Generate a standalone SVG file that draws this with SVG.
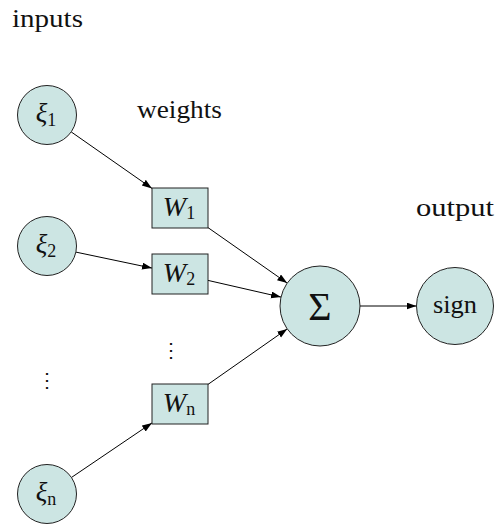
<svg xmlns="http://www.w3.org/2000/svg" width="497" height="524" viewBox="0 0 497 524">
<defs>
<style>
.node{fill:#cce5e3;stroke:#222;stroke-width:1}
.lbl{font-family:"Liberation Serif","DejaVu Serif",serif;fill:#111}
.math{font-family:"Liberation Serif","DejaVu Serif",serif;font-style:italic;fill:#111}
.sub{font-style:normal;font-size:18px}
.conn{stroke:#000;stroke-width:1;fill:none;marker-end:url(#arr)}
.dots{font-family:"DejaVu Serif",serif;font-size:20px;fill:#111}
</style>
<marker id="arr" markerUnits="userSpaceOnUse" markerWidth="10" markerHeight="8" refX="10" refY="3.5" orient="auto">
<path d="M0,0 L10,3.5 L0,7 z" fill="#000"/>
</marker>
</defs>
<rect width="497" height="524" fill="#fff"/>

<g id="titles" class="lbl" font-size="26">
<text x="12" y="27" textLength="71" lengthAdjust="spacingAndGlyphs">inputs</text>
<text x="137" y="118" textLength="85" lengthAdjust="spacingAndGlyphs">weights</text>
<text x="416" y="216" textLength="78" lengthAdjust="spacingAndGlyphs">output</text>
</g>

<g id="connectors">
<path class="conn" d="M71.2,131.9 L152,188.4"/>
<path class="conn" d="M75.9,252.1 L152,268.1"/>
<path class="conn" d="M71.4,477.5 L152,422.9"/>
<path class="conn" d="M208,227.6 L287.2,283.1"/>
<path class="conn" d="M208,280.4 L281,297.1"/>
<path class="conn" d="M208,384.4 L287.2,328.9"/>
<path class="conn" d="M360,306 L416.5,306"/>
</g>

<g id="xi1">
<circle class="node" cx="47" cy="115" r="29.5"/>
<text class="math" x="46" y="122" font-size="27" text-anchor="middle">ξ<tspan class="sub" dy="4">1</tspan></text>
</g>
<g id="xi2">
<circle class="node" cx="47" cy="246" r="29.5"/>
<text class="math" x="46" y="253" font-size="27" text-anchor="middle">ξ<tspan class="sub" dy="4">2</tspan></text>
</g>
<g id="xin">
<circle class="node" cx="47" cy="494" r="29.5"/>
<text class="math" x="46" y="501" font-size="27" text-anchor="middle">ξ<tspan class="sub" font-style="italic" dy="4">n</tspan></text>
</g>

<g id="w1">
<rect class="node" x="152" y="188" width="56" height="40"/>
<text class="math" x="179" y="216" font-size="28" text-anchor="middle">W<tspan class="sub" dy="3">1</tspan></text>
</g>
<g id="w2">
<rect class="node" x="152" y="254" width="56" height="40"/>
<text class="math" x="179" y="282" font-size="28" text-anchor="middle">W<tspan class="sub" dy="3">2</tspan></text>
</g>
<g id="wn">
<rect class="node" x="152" y="384" width="56" height="40"/>
<text class="math" x="179" y="412" font-size="28" text-anchor="middle">W<tspan class="sub" font-style="italic" dy="3">n</tspan></text>
</g>

<g id="sum">
<circle class="node" cx="320" cy="306" r="40"/>
<text class="lbl" x="320" y="320" font-size="40" text-anchor="middle">Σ</text>
</g>
<g id="sign">
<circle class="node" cx="455" cy="306" r="38.5"/>
<text class="lbl" x="455" y="313" font-size="26" text-anchor="middle" textLength="44" lengthAdjust="spacingAndGlyphs">sign</text>
</g>

<g id="ellipses">
<text class="dots" x="171" y="357" text-anchor="middle">⋮</text>
<text class="dots" x="47" y="387" text-anchor="middle">⋮</text>
</g>
</svg>
